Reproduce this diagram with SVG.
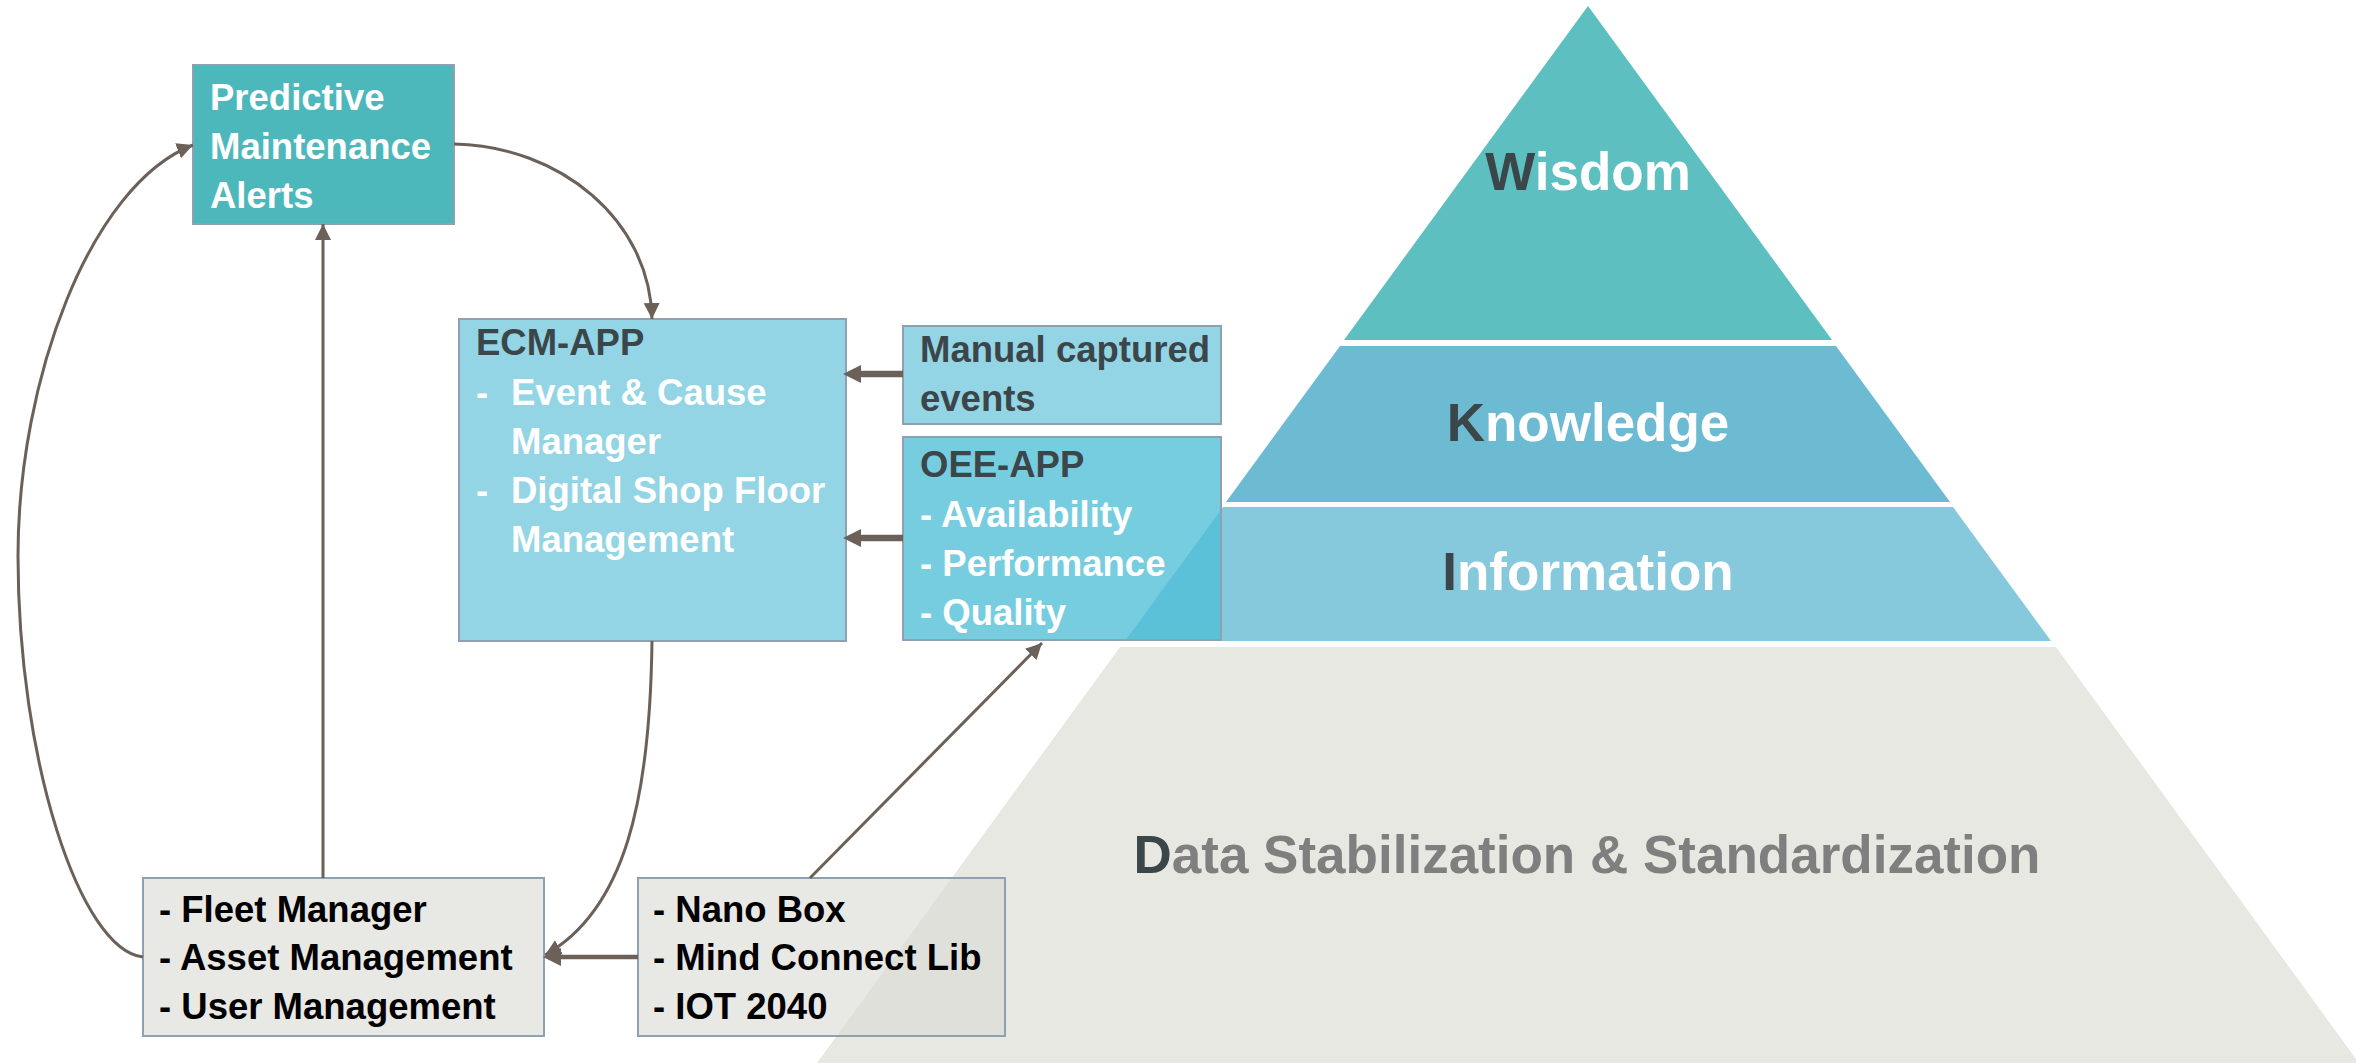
<svg xmlns="http://www.w3.org/2000/svg" width="2356" height="1063" viewBox="0 0 2356 1063">
<style>
text{font-family:"Liberation Sans",Arial,sans-serif;font-weight:bold;}
.box{stroke:#8fa1b1;stroke-width:2;}
.t36{font-size:36.5px;}
.w{fill:#ffffff;}
.d{fill:#3b464b;}
.k{fill:#000000;}
.pyr{font-size:53px;}
.con{fill:none;stroke:#6b6158;stroke-width:3;}
.thick{fill:none;stroke:#6b6158;stroke-width:4.5;}
.heavy{fill:none;stroke:#6b6158;stroke-width:6.5;}
</style>
<defs>
<marker id="ah" markerUnits="userSpaceOnUse" markerWidth="18" markerHeight="18" viewBox="0 0 18 18" refX="16" refY="9" orient="auto">
<path d="M0,1 L16,9 L0,17 z" fill="#6b6158"/>
</marker>
<marker id="ahT" markerUnits="userSpaceOnUse" markerWidth="20" markerHeight="20" viewBox="0 0 20 20" refX="8" refY="10" orient="auto">
<path d="M0,1 L18,10 L0,19 z" fill="#6b6158"/>
</marker>
</defs>
<rect width="2356" height="1063" fill="#ffffff"/>
<g id="pyramid">
<g id="wisdom">
<polygon points="1588,6 1832,340 1344,340" fill="#5dbfc0"/>
<text class="pyr" x="1588" y="190" text-anchor="middle"><tspan class="d">W</tspan><tspan class="w">isdom</tspan></text>
</g>
<g id="knowledge">
<polygon points="1340,346 1836,346 1950,502 1226,502" fill="#6dbbd3"/>
<text class="pyr" x="1588" y="441" text-anchor="middle"><tspan class="d">K</tspan><tspan class="w">nowledge</tspan></text>
</g>
<g id="information">
<polygon points="1223,507 1953,507 2051,641 1125,641" fill="#87c9dc"/>
<text class="pyr" x="1588" y="590" text-anchor="middle"><tspan class="d">I</tspan><tspan class="w">nformation</tspan></text>
</g>
<g id="data">
<polygon points="1120,647 2056,647 2359,1063 817,1063" fill="#e8e8e2"/>
<text class="pyr" x="1587" y="873" text-anchor="middle"><tspan class="d">D</tspan><tspan fill="#7f7f7f">ata Stabilization &amp; Standardization</tspan></text>
</g>
</g>
<g id="predictive">
<rect class="box" x="193" y="65" width="261" height="159" fill="#4db8bb"/>
<text class="t36 w" x="210" y="110">Predictive</text>
<text class="t36 w" x="210" y="159">Maintenance</text>
<text class="t36 w" x="210" y="208">Alerts</text>
</g>
<g id="ecm">
<rect class="box" x="459" y="319" width="387" height="322" fill="#93d5e4"/>
<text class="t36 d" x="476" y="355">ECM-APP</text>
<text class="t36 w" x="476" y="405">-</text>
<text class="t36 w" x="511" y="405">Event &amp; Cause</text>
<text class="t36 w" x="511" y="454">Manager</text>
<text class="t36 w" x="476" y="503">-</text>
<text class="t36 w" x="511" y="503">Digital Shop Floor</text>
<text class="t36 w" x="511" y="552">Management</text>
</g>
<g id="manual">
<rect class="box" x="903" y="326" width="318" height="98" fill="#93d5e4"/>
<text class="t36 d" x="920" y="362">Manual captured</text>
<text class="t36 d" x="920" y="411">events</text>
</g>
<g id="oee">
<rect class="box" x="903" y="437" width="318" height="203" fill="#4ebed7" fill-opacity="0.77"/>
<text class="t36 d" x="920" y="477">OEE-APP</text>
<text class="t36 w" x="920" y="527">- Availability</text>
<text class="t36 w" x="920" y="576">- Performance</text>
<text class="t36 w" x="920" y="625">- Quality</text>
</g>
<g id="fleet">
<rect class="box" x="143" y="878" width="401" height="158" fill="#dcdcd5" fill-opacity="0.65"/>
<text class="t36 k" x="159" y="922">- Fleet Manager</text>
<text class="t36 k" x="159" y="970">- Asset Management</text>
<text class="t36 k" x="159" y="1019">- User Management</text>
</g>
<g id="nano">
<rect class="box" x="638" y="878" width="367" height="158" fill="#dcdcd5" fill-opacity="0.65"/>
<text class="t36 k" x="653" y="922">- Nano Box</text>
<text class="t36 k" x="653" y="970">- Mind Connect Lib</text>
<text class="t36 k" x="653" y="1019">- IOT 2040</text>
</g>
<g id="connectors">
<path class="con" d="M143,957 C80,950 18,760 18,556 C18,380 90,185 193,145" marker-end="url(#ah)"/>
<path class="con" d="M323,878 L323,224" marker-end="url(#ah)"/>
<path class="con" d="M454,144 C560,146 650,220 652,319" marker-end="url(#ah)"/>
<path class="con" d="M652,641 C650,800 625,910 545,955" marker-end="url(#ah)"/>
<path class="con" d="M810,878 L1042,643" marker-end="url(#ah)"/>
<path class="heavy" d="M903,374 L853,374" marker-end="url(#ahT)"/>
<path class="heavy" d="M903,538 L853,538" marker-end="url(#ahT)"/>
<path class="thick" d="M638,957 L553,957" marker-end="url(#ahT)"/>
</g>
</svg>
